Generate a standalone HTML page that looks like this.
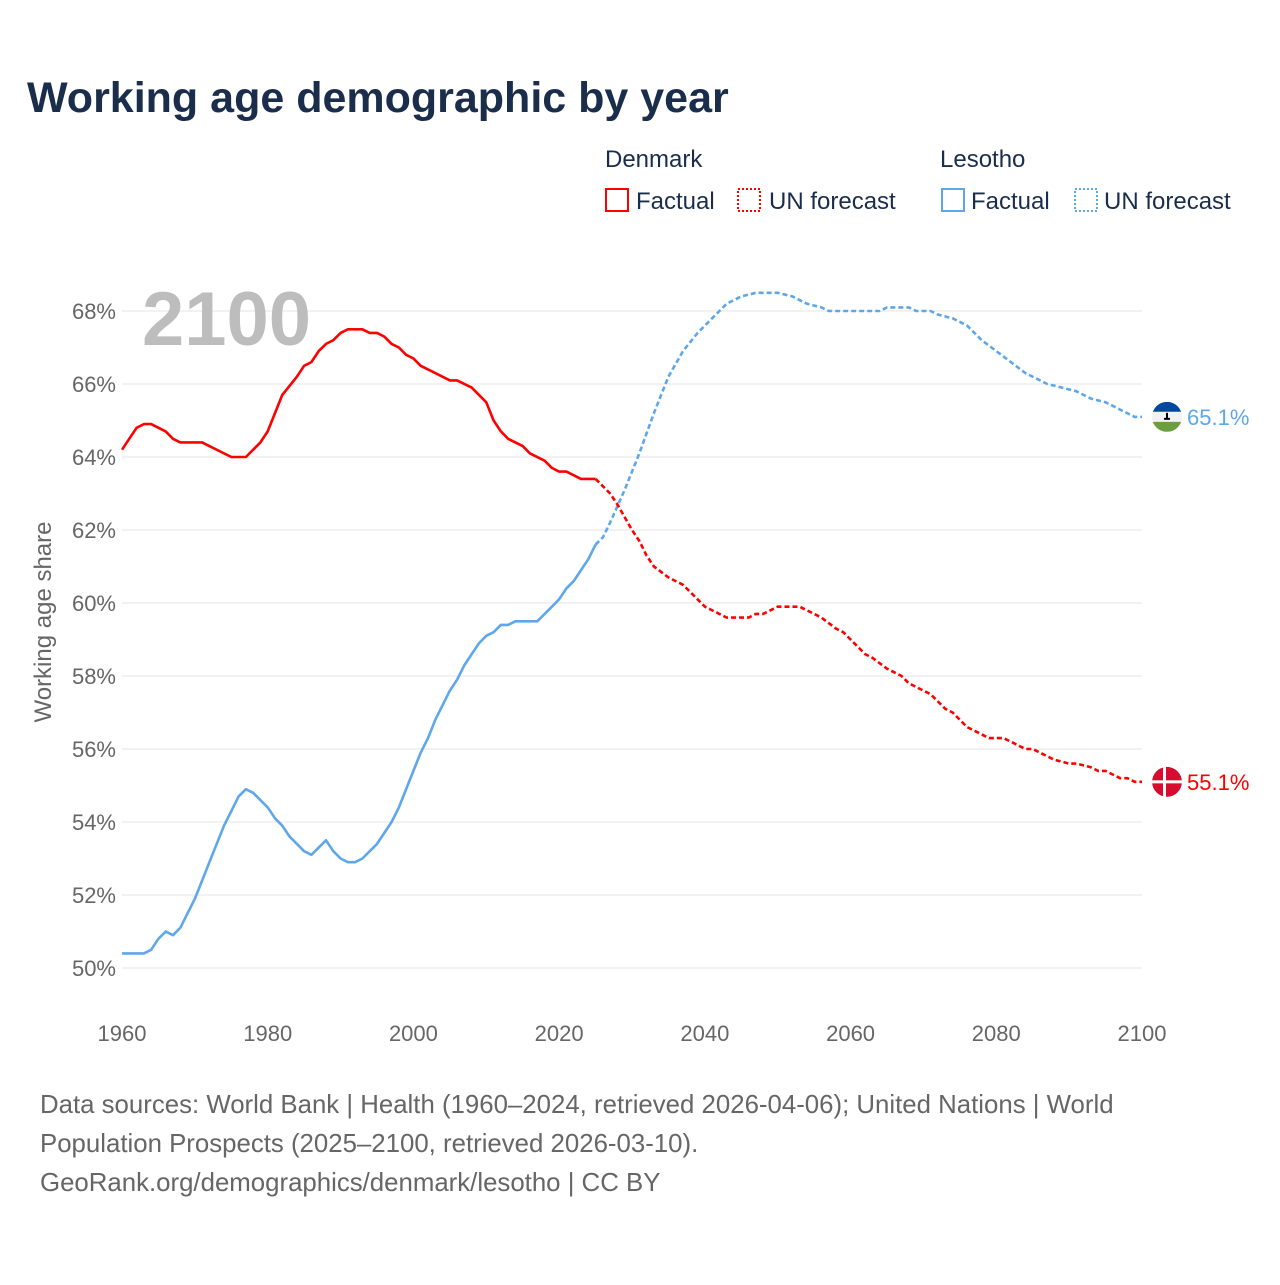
<!DOCTYPE html>
<html><head><meta charset="utf-8"><style>
body{margin:0;background:#fff;font-family:"Liberation Sans",sans-serif}
svg text{font-family:"Liberation Sans",sans-serif}
</style></head><body>
<svg id="c" width="1280" height="1280" xmlns="http://www.w3.org/2000/svg">
<text x="27" y="112" font-size="43" font-weight="bold" fill="#1a2e4c">Working age demographic by year</text>
<g font-size="24" fill="#1a2e4c">
<text x="605" y="167">Denmark</text>
<rect x="606" y="189" width="22" height="22" fill="none" stroke="#ff0000" stroke-width="2"/>
<text x="636" y="209">Factual</text>
<rect x="738" y="189" width="22" height="22" fill="none" stroke="#ff0000" stroke-width="2" stroke-dasharray="2,2"/>
<text x="769" y="209">UN forecast</text>
<text x="940" y="167">Lesotho</text>
<rect x="942" y="189" width="22" height="22" fill="none" stroke="#5ea7ea" stroke-width="2"/>
<text x="971" y="209">Factual</text>
<rect x="1075" y="189" width="22" height="22" fill="none" stroke="#5ea7ea" stroke-width="2" stroke-dasharray="2,2"/>
<text x="1104" y="209">UN forecast</text>
</g>
<g id="grid"></g>
<text x="142" y="345" font-size="76" font-weight="bold" fill="#bdbdbd">2100</text>
<g id="marks"></g>
<text transform="translate(51,622) rotate(-90)" text-anchor="middle" font-size="24" fill="#666">Working age share</text>
<g font-size="25.8" fill="#666">
<text x="40" y="1113">Data sources: World Bank | Health (1960–2024, retrieved 2026-04-06); United Nations | World</text>
<text x="40" y="1152">Population Prospects (2025–2100, retrieved 2026-03-10).</text>
<text x="40" y="1191">GeoRank.org/demographics/denmark/lesotho | CC BY</text>
</g>
</svg>
<script>
const yTicks=[50,52,54,56,58,60,62,64,66,68];
const xTicks=[1960,1980,2000,2020,2040,2060,2080,2100];
const dkFactYears=[1960,1962,1963,1964,1966,1967,1968,1971,1975,1977,1979,1980,1982,1984,1985,1986,1987,1988,1989,1990,1991,1993,1994,1995,1996,1997,1998,1999,2000,2001,2003,2005,2006,2008,2010,2011,2012,2013,2015,2016,2018,2019,2020,2021,2023,2024,2025];
const dkFactVals=[64.2,64.8,64.9,64.9,64.7,64.5,64.4,64.4,64.0,64.0,64.4,64.7,65.7,66.2,66.5,66.6,66.9,67.1,67.2,67.4,67.5,67.5,67.4,67.4,67.3,67.1,67.0,66.8,66.7,66.5,66.3,66.1,66.1,65.9,65.5,65.0,64.7,64.5,64.3,64.1,63.9,63.7,63.6,63.6,63.4,63.4,63.4];
const dkFcYears=[2025,2027,2028,2030,2031,2032,2033,2035,2037,2039,2040,2042,2043,2046,2047,2048,2050,2053,2055,2056,2058,2059,2060,2062,2063,2065,2067,2068,2070,2071,2073,2074,2076,2078,2079,2081,2083,2084,2085,2087,2088,2090,2091,2093,2094,2095,2097,2098,2099,2100];
const dkFcVals=[63.4,63.0,62.7,62.0,61.7,61.3,61.0,60.7,60.5,60.1,59.9,59.7,59.6,59.6,59.7,59.7,59.9,59.9,59.7,59.6,59.3,59.2,59.0,58.6,58.5,58.2,58.0,57.8,57.6,57.5,57.1,57.0,56.6,56.4,56.3,56.3,56.1,56.0,56.0,55.8,55.7,55.6,55.6,55.5,55.4,55.4,55.2,55.2,55.1,55.1];
const lsFactYears=[1960,1963,1964,1965,1966,1967,1968,1970,1972,1974,1976,1977,1978,1980,1981,1982,1983,1985,1986,1988,1989,1990,1991,1992,1993,1995,1997,1998,2000,2001,2002,2003,2005,2006,2007,2009,2010,2011,2012,2013,2014,2017,2019,2020,2021,2022,2024,2025];
const lsFactVals=[50.4,50.4,50.5,50.8,51.0,50.9,51.1,51.9,52.9,53.9,54.7,54.9,54.8,54.4,54.1,53.9,53.6,53.2,53.1,53.5,53.2,53.0,52.9,52.9,53.0,53.4,54.0,54.4,55.4,55.9,56.3,56.8,57.6,57.9,58.3,58.9,59.1,59.2,59.4,59.4,59.5,59.5,59.9,60.1,60.4,60.6,61.2,61.6];
const lsFcYears=[2025,2026,2027,2029,2031,2033,2035,2037,2039,2041,2043,2045,2047,2050,2052,2054,2056,2057,2064,2065,2068,2069,2071,2072,2074,2076,2078,2080,2082,2084,2087,2089,2091,2093,2095,2097,2099,2100];
const lsFcVals=[61.6,61.8,62.2,63.1,64.1,65.2,66.2,66.9,67.4,67.8,68.2,68.4,68.5,68.5,68.4,68.2,68.1,68.0,68.0,68.1,68.1,68.0,68.0,67.9,67.8,67.6,67.2,66.9,66.6,66.3,66.0,65.9,65.8,65.6,65.5,65.3,65.1,65.1];
const NS='http://www.w3.org/2000/svg';
const X=y=>122+(y-1960)*(1020/140);
const Y=v=>968-(v-50)*36.5;
function mk(t,a,p){const e=document.createElementNS(NS,t);for(const k in a)e.setAttribute(k,a[k]);p.appendChild(e);return e;}
const grid=document.getElementById('grid'),marks=document.getElementById('marks');
yTicks.forEach(v=>{
 const l=mk('line',{x1:122,x2:1142,y1:Y(v),y2:Y(v),stroke:'#e6e6e6','stroke-width':1},grid);
 
 
 const t=mk('text',{x:116,y:Y(v)+8,'text-anchor':'end','font-size':22,fill:'#666'},grid);
 t.textContent=v+'%';
 
 
});
xTicks.forEach(y=>{
 const t=mk('text',{x:X(y),y:1041,'text-anchor':'middle','font-size':22,fill:'#666'},grid);
 t.textContent=y;
 
 
});
function line(ys,vs,col,dash,name){
 const d=ys.map((y,i)=>(i?'L':'M')+X(y).toFixed(1)+','+Y(vs[i]).toFixed(1)).join('');
 const p=mk('path',{d:d,fill:'none',stroke:col,'stroke-width':2.6,'stroke-linejoin':'round'},marks);
 if(dash)p.setAttribute('stroke-dasharray','5,3');
 
 
}
line(lsFactYears,lsFactVals,'#5ea7ea',false,'lesotho-factual-line');
line(lsFcYears,lsFcVals,'#5ea7ea',true,'lesotho-forecast-line');
line(dkFactYears,dkFactVals,'#ff0000',false,'denmark-factual-line');
line(dkFcYears,dkFcVals,'#ff0000',true,'denmark-forecast-line');
const lv=lsFcVals[lsFcVals.length-1],dv=dkFcVals[dkFcVals.length-1];
const cx=1167,R=15;
let g=mk('g',{},marks);


const ly=Y(lv);
g.innerHTML='<clipPath id="cl"><circle cx="'+cx+'" cy="'+ly+'" r="'+R+'"/></clipPath><g clip-path="url(#cl)"><rect x="'+(cx-R)+'" y="'+(ly-R)+'" width="30" height="10" fill="#00479e"/><rect x="'+(cx-R)+'" y="'+(ly-5)+'" width="30" height="10" fill="#f2f2f2"/><rect x="'+(cx-R)+'" y="'+(ly+5)+'" width="30" height="10" fill="#6a9e3f"/><rect x="'+(cx-1)+'" y="'+(ly-4)+'" width="2" height="6" fill="#000"/><rect x="'+(cx-3)+'" y="'+(ly+1)+'" width="6" height="2" fill="#000"/></g>';
let t=mk('text',{x:1187,y:ly+8,'font-size':22,fill:'#5ea7ea'},marks);
t.textContent=lv.toFixed(1)+'%';


const dy=Y(dv);
g=mk('g',{},marks);


g.innerHTML='<clipPath id="cd"><circle cx="'+cx+'" cy="'+dy+'" r="'+R+'"/></clipPath><g clip-path="url(#cd)"><circle cx="'+cx+'" cy="'+dy+'" r="'+R+'" fill="#d80c2e"/><rect x="'+(cx-R)+'" y="'+(dy-1.5)+'" width="30" height="3" fill="#fff"/><rect x="'+(cx-4)+'" y="'+(dy-R)+'" width="3" height="30" fill="#fff"/></g>';
t=mk('text',{x:1187,y:dy+8,'font-size':22,fill:'#ff0000'},marks);
t.textContent=dv.toFixed(1)+'%';


</script>
</body></html>
